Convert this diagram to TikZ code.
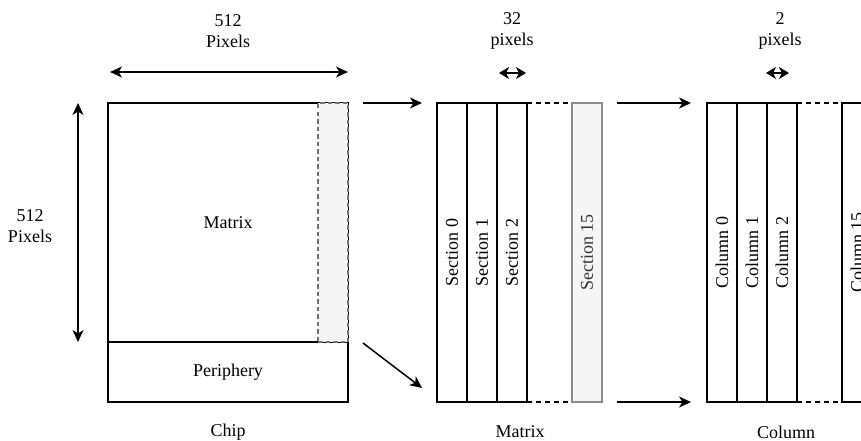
\documentclass[tikz,border=0pt]{standalone}
\usepackage{fontspec}
\setmainfont{Liberation Serif}
\usetikzlibrary{arrows.meta}
\begin{document}
\begin{tikzpicture}[x=1pt,y=-1pt,
  every node/.style={font=\fontsize{18}{21.6}\selectfont, inner sep=0pt, outer sep=0pt},
  box/.style={draw=black, line width=1.5pt, fill=white},
  graybox/.style={draw=black!45, line width=1.5pt, fill=black!4},
  stripbox/.style={draw=black!55, line width=1.5pt, fill=black!4, dash pattern=on 4.5pt off 3pt},
  secbox/.style={box, rotate=90, minimum width=299pt, minimum height=30pt},
  sec15/.style={graybox, rotate=90, minimum width=299pt, minimum height=30pt},
  conn/.style={line width=1.5pt, -{Stealth[length=12pt,width=11pt,inset=3.5pt]}},
  dimarrow/.style={line width=1.5pt, {Stealth[length=12pt,width=11pt,inset=3.5pt]}-{Stealth[length=12pt,width=11pt,inset=3.5pt]}},
  smallarrow/.style={line width=1.5pt, {Stealth[length=10pt,width=12pt,inset=3pt]}-{Stealth[length=10pt,width=12pt,inset=3pt]}},
  dashline/.style={line width=1.5pt, dash pattern=on 4.5pt off 4.5pt},
  lbl/.style={align=center}
]
\useasboundingbox (0,0) rectangle (861,441);
\clip (0,0) rectangle (861,441);

% Chip
\node[box, minimum width=240pt, minimum height=239pt] (chipmatrix) at (228,222.5) {Matrix};
\node[box, minimum width=240pt, minimum height=60pt] (periphery) at (228,372) {Periphery};
\node[stripbox, minimum width=30pt, minimum height=239pt] (strip) at (333,222.5) {};
\node[lbl] (chiplbl) at (228,432) {Chip};
\node[lbl] (toplbl) at (228,31) {512\\Pixels};
\node[lbl] (leftlbl) at (30,226) {512\\Pixels};
\coordinate (ha) at (110,72);
\coordinate (hb) at (348,72);
\draw[dimarrow] (ha) -- (hb);
\coordinate (va) at (78,103);
\coordinate (vb) at (78,342);
\draw[dimarrow] (va) -- (vb);

% arrows chip -> matrix
\coordinate (a1s) at (363,103);
\coordinate (a1e) at (422,103);
\draw[conn] (a1s) -- (a1e);
\coordinate (a2s) at (363,343);
\coordinate (a2e) at (422,388);
\draw[conn] (a2s) -- (a2e);

% Matrix sections
\node[secbox] (s0) at (452,252.5) {Section 0};
\node[secbox] (s1) at (482,252.5) {Section 1};
\node[secbox] (s2) at (512,252.5) {Section 2};
\node[sec15] (s15) at (587,252.5) {\color{black!80}Section 15};
\draw[dashline] (s2.south east) -- (s15.north east);
\draw[dashline] (s2.south west) -- (s15.north west);
\node[lbl] (matrixlbl) at (520,432) {Matrix};
\node[lbl] (lbl32) at (512,31) {32\\pixels};
\coordinate (d32a) at (499,73);
\coordinate (d32b) at (526,73);
\draw[smallarrow] (d32a) -- (d32b);

% arrows matrix -> column
\coordinate (a3s) at (617,103);
\coordinate (a3e) at (691,103);
\draw[conn] (a3s) -- (a3e);
\coordinate (a4s) at (617,402);
\coordinate (a4e) at (691,402);
\draw[conn] (a4s) -- (a4e);

% Columns
\node[secbox] (c0) at (722,252.5) {Column 0};
\node[secbox] (c1) at (752,252.5) {Column 1};
\node[secbox] (c2) at (782,252.5) {Column 2};
\node[secbox] (c15) at (857,252.5) {Column 15};
\draw[dashline] (c2.south east) -- (c15.north east);
\draw[dashline] (c2.south west) -- (c15.north west);
\node[lbl] (columnlbl) at (786,432) {Column};
\node[lbl] (lbl2) at (780,31) {2\\pixels};
\coordinate (d2a) at (766,73);
\coordinate (d2b) at (789,73);
\draw[smallarrow] (d2a) -- (d2b);
\end{tikzpicture}
\end{document}
